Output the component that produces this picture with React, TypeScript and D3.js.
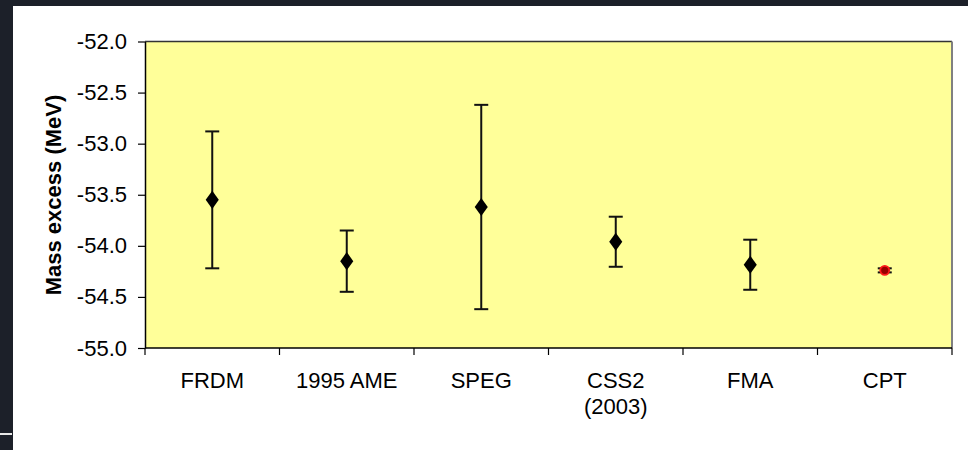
import { useEffect, useRef } from 'react';
import * as d3 from 'd3';

// data
const models = ['FRDM', '1995 AME', 'SPEG', 'CSS2\n(2003)', 'FMA', 'CPT'];
const massExcess = [-53.55, -54.15, -53.62, -53.96, -54.185, -54.24];
const errors = [0.67, 0.3, 1.0, 0.245, 0.245, 0.02];
const yTicks = [-55.0, -54.5, -54.0, -53.5, -53.0, -52.5, -52.0];

export default function App() {
  const svgRef = useRef<SVGSVGElement>(null);

  useEffect(() => {
    const width = 968;
    const height = 450;
    const m = { left: 145, right: 952, top: 41.5, bottom: 348 };
    const font = 'Arial, "Liberation Sans", sans-serif';

    const svg = d3.select(svgRef.current)
      .attr('width', width)
      .attr('height', height);
    svg.selectAll('*').remove();

    // dark slide background + white panel
    svg.append('rect').attr('width', width).attr('height', height).attr('fill', '#1c2029');
    svg.append('rect').attr('x', 0).attr('y', 433).attr('width', 12).attr('height', 2).attr('fill', '#e8e8e8');
    svg.append('rect').attr('x', 13).attr('y', 6).attr('width', width - 13).attr('height', height - 6).attr('fill', '#ffffff');

    const x = d3.scaleBand<string>()
      .domain(models)
      .range([m.left, m.right])
      .padding(0);

    const y = d3.scaleLinear()
      .domain([-55, -52])
      .range([m.bottom, m.top]);

    // plot area
    svg.append('rect')
      .attr('x', m.left).attr('y', m.top)
      .attr('width', m.right - m.left).attr('height', m.bottom - m.top)
      .attr('fill', '#ffff99');
    svg.append('line')
      .attr('x1', m.left).attr('x2', m.right).attr('y1', m.top).attr('y2', m.top)
      .attr('stroke', '#333').attr('stroke-width', 1.5);
    svg.append('line')
      .attr('x1', m.right).attr('x2', m.right).attr('y1', m.top).attr('y2', m.bottom)
      .attr('stroke', '#808080').attr('stroke-width', 2);

    // y axis
    const yAxis = svg.append('g')
      .attr('transform', `translate(${m.left},0)`)
      .call(d3.axisLeft(y).tickValues(yTicks).tickFormat(d => (+d).toFixed(1)).tickSize(7).tickPadding(11).tickSizeOuter(0));
    yAxis.select('.domain').attr('stroke', '#000').attr('stroke-width', 1.5);
    yAxis.selectAll('.tick line').attr('stroke', '#000').attr('stroke-width', 1.2);
    yAxis.selectAll('.tick text').attr('font-family', font).attr('font-size', 22).attr('fill', '#000');

    // x axis: ticks on category boundaries
    const bounds = models.map(d => x(d) as number).concat([m.right]);
    svg.append('line')
      .attr('x1', m.left).attr('x2', m.right).attr('y1', m.bottom).attr('y2', m.bottom)
      .attr('stroke', '#000').attr('stroke-width', 1.5);
    svg.selectAll('.xtick')
      .data(bounds)
      .enter()
      .append('line')
      .attr('class', 'xtick')
      .attr('x1', d => d).attr('x2', d => d)
      .attr('y1', m.bottom).attr('y2', m.bottom + 7)
      .attr('stroke', '#000').attr('stroke-width', 1.2);

    const labels = svg.selectAll('.xlabel')
      .data(models)
      .enter()
      .append('text')
      .attr('class', 'xlabel')
      .attr('text-anchor', 'middle')
      .attr('font-family', font)
      .attr('font-size', 22)
      .attr('fill', '#000');
    labels.selectAll('tspan')
      .data(d => d.split('\n').map(s => ({ s, c: d })))
      .enter()
      .append('tspan')
      .attr('x', d => (x(d.c) as number) + x.bandwidth() / 2)
      .attr('y', (d, i) => 388 + i * 26)
      .text(d => d.s);

    // y axis title
    svg.append('text')
      .attr('transform', `translate(61,195) rotate(-90)`)
      .attr('text-anchor', 'middle')
      .attr('font-family', font)
      .attr('font-size', 22)
      .attr('font-weight', 'bold')
      .attr('fill', '#000')
      .text('Mass excess (MeV)');

    // error bars
    const pts = models.map((c, i) => ({ c, v: massExcess[i], e: errors[i], last: i === models.length - 1 }));
    const cx = (c: string) => (x(c) as number) + x.bandwidth() / 2;
    const bars = svg.append('g').attr('stroke', '#111').attr('stroke-width', 2);
    pts.forEach(p => {
      const X = cx(p.c);
      bars.append('line').attr('x1', X).attr('x2', X).attr('y1', y(p.v + p.e)).attr('y2', y(p.v - p.e));
      bars.append('line').attr('x1', X - 7).attr('x2', X + 7).attr('y1', y(p.v + p.e)).attr('y2', y(p.v + p.e));
      bars.append('line').attr('x1', X - 7).attr('x2', X + 7).attr('y1', y(p.v - p.e)).attr('y2', y(p.v - p.e));
    });

    // markers
    const diamond = d3.symbol().type(d3.symbolDiamond).size(95);
    svg.selectAll('.mark')
      .data(pts.filter(p => !p.last))
      .enter()
      .append('path')
      .attr('class', 'mark')
      .attr('transform', d => `translate(${cx(d.c)},${y(d.v)}) scale(1.25,1) `)
      .attr('d', diamond)
      .attr('fill', '#000');

    const cpt = pts[pts.length - 1];
    svg.append('circle')
      .attr('cx', cx(cpt.c)).attr('cy', y(cpt.v)).attr('r', 4.5)
      .attr('fill', '#990000')
      .attr('stroke', '#ff1a1a')
      .attr('stroke-width', 1.8);
  }, []);

  return (
    <svg ref={svgRef} style={{ position: 'absolute', left: 0, top: 0, display: 'block' }}></svg>
  );
}
